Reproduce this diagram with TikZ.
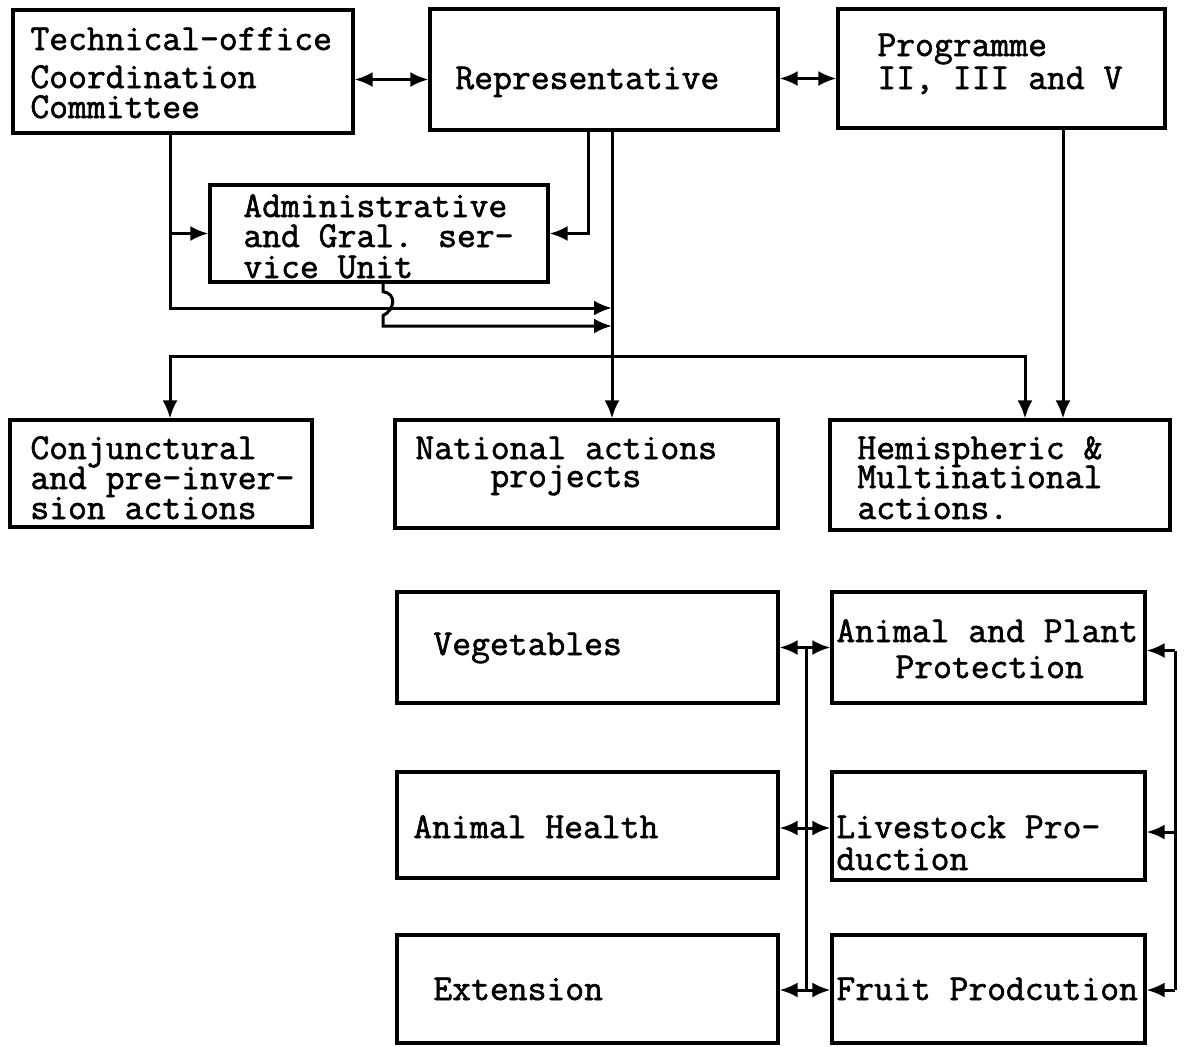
\documentclass[tikz,border=0pt]{standalone}
\usepackage{fontspec}
\newfontfamily\twfont{Latin Modern Mono}[FakeBold=1.6]
\usetikzlibrary{arrows.meta,fit,calc}
\begin{document}
\begin{tikzpicture}[x=0.5pt,y=-0.5pt,
  box/.style={draw, line width=1.6pt, inner sep=0pt},
  txt/.style={font=\twfont\fontsize{18.3}{20}\selectfont, inner sep=0pt, text height=10.8pt, text depth=3pt, anchor=base west},
  ln/.style={line width=1.5pt},
  tip/.tip={Latex[length=9pt,width=7.5pt]},
  arr/.style={ln, -tip},
  dbl/.style={ln, tip-tip}]
\useasboundingbox (0,0) rectangle (1185,1046);

% boxes
\node[box, fit={(13,10) (353,133)}] (tech) {};
\node[box, fit={(430,9) (778,130)}] (rep) {};
\node[box, fit={(838,9) (1165,128)}] (prog) {};
\node[box, fit={(210,185) (548,282)}] (admin) {};
\node[box, fit={(10,420) (312,527)}] (conj) {};
\node[box, fit={(395,420) (778,528)}] (nat) {};
\node[box, fit={(830,420) (1170,530)}] (hemi) {};
\node[box, fit={(397,592) (778,703)}] (veg) {};
\node[box, fit={(832,592) (1145,703)}] (app) {};
\node[box, fit={(397,772) (778,878)}] (ah) {};
\node[box, fit={(832,772) (1145,880)}] (live) {};
\node[box, fit={(397,935) (778,1043)}] (ext) {};
\node[box, fit={(832,935) (1145,1043)}] (fruit) {};

% texts
\node[txt] (techA) at (30,50) {Technical-office};
\node[txt] (techB) at (30,88) {Coordination};
\node[txt] (techC) at (30,118) {Committee};
\node[txt] (repA) at (455,89) {Representative};
\node[txt] (progA) at (877,56) {Programme};
\node[txt] (progB) at (877,89) {II, III and V};
\node[txt] (admA) at (243,217) {Administrative};
\node[txt] (admB) at (243,247) {and Gral. ser-};
\node[txt] (admC) at (243,278) {vice Unit};
\node[txt] (conA) at (30,459) {Conjunctural};
\node[txt] (conB) at (30,489) {and pre-inver-};
\node[txt] (conC) at (30,519) {sion actions};
\node[txt] (natA) at (415,459) {National actions};
\node[txt] (natB) at (490,487) {projects};
\node[txt] (hemA) at (857,459) {Hemispheric \&};
\node[txt] (hemB) at (857,488) {Multinational};
\node[txt] (hemC) at (857,519) {actions.};
\node[txt] (vegA) at (433,655) {Vegetables};
\node[txt] (appA) at (836,642) {Animal and Plant};
\node[txt] (appB) at (895,678) {Protection};
\node[txt] (ahA) at (413,838) {Animal Health};
\node[txt] (livA) at (836,838) {Livestock Pro-};
\node[txt] (livB) at (836,870) {duction};
\node[txt] (extA) at (433,1000) {Extension};
\node[txt] (frA) at (836,1000) {Fruit Prodcution};

% reference coordinates
\coordinate (tx) at (170,0);
\coordinate (rx) at (612,0);
\coordinate (rx2) at (588,0);
\coordinate (ax) at (383,0);
\coordinate (px) at (1063,0);
\coordinate (hx) at (1025,0);
\coordinate (bx) at (806,0);
\coordinate (sx) at (1175,0);
\coordinate (cy1) at (0,308);
\coordinate (cy2) at (0,326);
\coordinate (cy3) at (0,356);

% top connectors
\draw[dbl] ($(tech.east)+(0,8)$) coordinate (a1) -- (a1 -| rep.west);
\draw[dbl] ($(rep.east)+(0,9)$) coordinate (a2) -- (a2 -| prog.west);

\draw[arr] (tech.south -| tx) -- (tx |- cy1) -- (rx |- cy1);
\draw[arr] (tx |- admin.west) -- (admin.west);
\draw[arr] (rep.south -| rx2) |- (admin.east);
\draw[arr] (rep.south -| rx) -- (nat.north -| rx);
\draw[arr] (admin.south -| ax) -- ++(0,8) .. controls +(14,2) and +(12,-6) .. ++(0,24) -- (ax |- cy2) -- (rx |- cy2);
\draw[dbl] (conj.north -| tx) -- (tx |- cy3) -- (hx |- cy3) -- (hemi.north -| hx);
\draw[arr] (prog.south -| px) -- (hemi.north -| px);

% bottom connectors
\draw[dbl] (veg.east) -- (app.west);
\draw[dbl] ($(ah.east)+(0,3)$) coordinate (a3) -- (a3 -| live.west);
\draw[dbl] ($(ext.east)+(0,1)$) coordinate (a4) -- (a4 -| fruit.west);
\draw[ln] (veg.east -| bx) -- (a4 -| bx);
\draw[ln] ($(app.east -| sx)+(0,3)$) coordinate (s1) -- (a4 -| sx);
\draw[arr] (s1) -- (s1 -| app.east);
\draw[arr] ($(live.east -| sx)+(0,6)$) coordinate (s2) -- (s2 -| live.east);
\draw[arr] (a4 -| sx) -- (a4 -| fruit.east);
\end{tikzpicture}
\end{document}
